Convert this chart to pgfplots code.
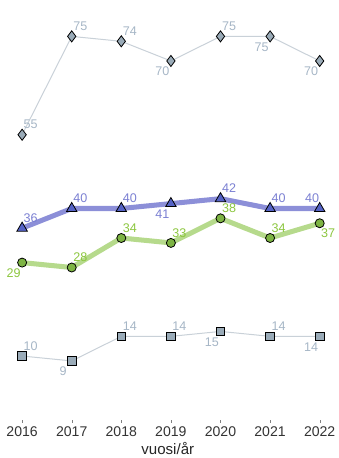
\documentclass[border=0pt]{standalone}
\usepackage{fontspec}
\setmainfont{Liberation Sans}
\usepackage{pgfplots}
\usepackage{pgfplotstable}
\pgfplotsset{compat=1.18}

\definecolor{grayline}{HTML}{C9D1D8}
\definecolor{grayfill}{HTML}{9AABB8}
\definecolor{graytext}{HTML}{A6B6C6}
\definecolor{blueline}{HTML}{8C8FD8}
\definecolor{bluefill}{HTML}{5563C6}
\definecolor{bluetext}{HTML}{7B80D2}
\definecolor{greenline}{HTML}{B6DA8C}
\definecolor{greenfill}{HTML}{7DB443}
\definecolor{greentext}{HTML}{8CC63F}

\pgfplotstableread{
x y
2016 55
2017 75
2018 74
2019 70
2020 75
2021 75
2022 70
}\diamonds
\pgfplotstableread{
x y
2016 36
2017 40
2018 40
2019 41
2020 42
2021 40
2022 40
}\triangles
\pgfplotstableread{
x y
2016 29
2017 28
2018 34
2019 33
2020 38
2021 34
2022 37
}\circles
\pgfplotstableread{
x y
2016 10
2017 9
2018 14
2019 14
2020 15
2021 14
2022 14
}\squares

\pgfplotsset{
    % labels sit above right by default; shifts below add up
    lbl/.style={
        nodes near coords,
        nodes near coords style={anchor=center, inner sep=0pt,
            xshift=8.5pt, yshift=10pt,
            font=\fontsize{12.5}{14}\selectfont, text=#1},
    },
    bl/.style={coordinate style/.condition={\coordindex==#1}{xshift=-17pt, yshift=-20.5pt}},
    br/.style={coordinate style/.condition={\coordindex==#1}{yshift=-20pt}},
    al/.style={coordinate style/.condition={\coordindex==#1}{xshift=-16pt}},
}

\begin{document}
\begin{tikzpicture}
\begin{axis}[
    scale only axis,
    width=334pt, height=418pt,
    xmin=2015.554, xmax=2022.32,
    ymin=-3, ymax=82.4,
    axis line style={draw=none},
    xtick pos=bottom,
    ytick=\empty,
    xtick={2016,...,2022},
    xtick style={draw=black!50},
    major tick length=3pt,
    tick align=outside,
    xticklabel style={/pgf/number format/1000 sep={}, text=black!80, font=\fontsize{14}{16}\selectfont},
    /pgf/number format/assume math mode=true,
    xlabel={vuosi/år},
    xlabel style={font=\fontsize{15}{17}\selectfont, text=black!85, yshift=1pt},
    clip=false,
]
\addplot[grayline, line width=1pt, mark=diamond*, mark size=5.5pt,
    mark options={fill=grayfill, draw=black, line width=0.8pt},
    lbl=graytext, bl=3, bl=5, bl=6]
    table[x=x, y=y] {\diamonds};
\addplot[blueline, line width=5pt, mark=triangle*, mark size=6pt,
    mark options={fill=bluefill, draw=black, line width=0.8pt},
    lbl=bluetext, bl=3, al=6]
    table[x=x, y=y] {\triangles};
\addplot[greenline, line width=5pt, mark=*, mark size=4.5pt,
    mark options={fill=greenfill, draw=black, line width=0.8pt},
    lbl=greentext, bl=0, br=6]
    table[x=x, y=y] {\circles};
\addplot[grayline, line width=1pt, mark=square*, mark size=4.2pt,
    mark options={fill=grayfill, draw=black, line width=0.8pt},
    lbl=graytext, bl=1, bl=4, bl=6]
    table[x=x, y=y] {\squares};
\end{axis}
\end{tikzpicture}
\end{document}
